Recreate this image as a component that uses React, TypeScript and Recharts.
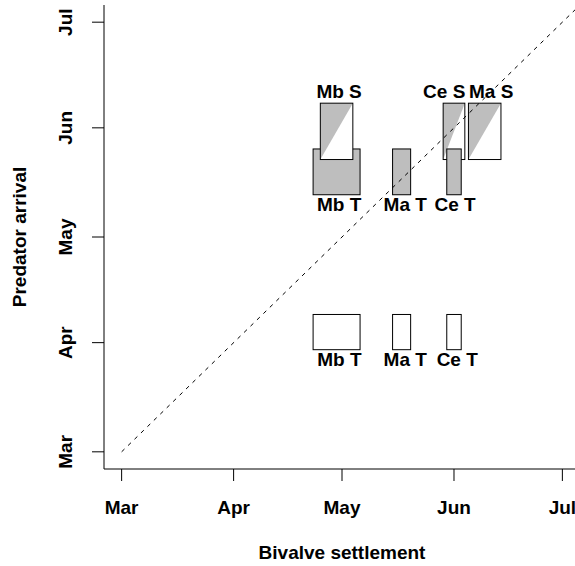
import { ComposedChart, XAxis, YAxis, ReferenceArea, ReferenceLine, Scatter, Label } from "recharts"

const monthTicks = [60, 91, 121, 152, 182]
const monthNames = ["Mar", "Apr", "May", "Jun", "Jul"]
const axisMin = 55.12
const axisMax = 186.88

// settlement windows, day of year (Mb, Ma, Ce)
const species = ["Mb", "Ma", "Ce"]
const settleT = [[113, 126], [135, 140], [150, 154]]
const settleS = [[115, 124], [156, 165], [149, 155]]

// predator arrival windows, day of year
const arrivalEarly = [89, 99]
const arrivalLate = [133, 146]
const arrivalS = [143, 159]

const labelText = ["Mb S", "Ce S", "Ma S", "Mb T", "Ma T", "Ce T", "Mb T", "Ma T", "Ce T"]
const labelX = [120.2, 149.3, 162.3, 120.2, 138.5, 152.3, 120.3, 138.5, 152.9]
const labelY = [162.4, 162.4, 162.4, 130.4, 130.4, 130.4, 86.2, 86.2, 86.2]

const diagonal = [60, axisMax]

const GREY = "#bebebe"
const FONT = "'Liberation Sans', Arial, sans-serif"

// drawing order matters: S boxes sit over Mb T, Ce T sits over Ce S
const boxes = [
    ...species.map((_, i) => ({ x: settleT[i], y: arrivalEarly, kind: "open" })),
    { x: settleT[0], y: arrivalLate, kind: "solid" },
    { x: settleT[1], y: arrivalLate, kind: "solid" },
    { x: settleS[0], y: arrivalS, kind: "half" },
    { x: settleS[2], y: arrivalS, kind: "half" },
    { x: settleS[1], y: arrivalS, kind: "half" },
    { x: settleT[2], y: arrivalLate, kind: "solid" },
]

const labels = labelText.map((t, i) => ({ x: labelX[i], y: labelY[i], text: t }))

const textStyle = { fontFamily: FONT, fontWeight: 700, fontSize: 19, fill: "#000" }

function BoxShape(props: any) {
    const { x, y, width, height, kind } = props
    if (kind === "half") {
        return (
            <g>
                <rect x={x} y={y} width={width} height={height} fill="#fff" />
                <polygon points={`${x},${y} ${x + width},${y} ${x},${y + height}`} fill={GREY} />
                <rect x={x} y={y} width={width} height={height} fill="none" stroke="#000" strokeWidth={1} />
            </g>
        )
    }
    return <rect x={x} y={y} width={width} height={height} fill={kind === "solid" ? GREY : "#fff"} stroke="#000" strokeWidth={1} />
}

function XTick(props: any) {
    const { x, y, payload } = props
    return (
        <text x={x} y={y + 33} textAnchor="middle" style={textStyle}>
            {monthNames[monthTicks.indexOf(payload.value)]}
        </text>
    )
}

function YTick(props: any) {
    const { x, y, payload } = props
    return (
        <text transform={`translate(${x - 27.2},${y}) rotate(-90)`} y={6.8} textAnchor="middle" style={textStyle}>
            {monthNames[monthTicks.indexOf(payload.value)]}
        </text>
    )
}

function LabelShape(props: any) {
    const { cx, cy, payload } = props
    return (
        <text x={cx} y={cy + 6.8} textAnchor="middle" style={textStyle}>
            {payload.text}
        </text>
    )
}

export default function App() {
    return (
        <div style={{ position: "fixed", left: 0, top: 0, width: 575, height: 566, overflow: "hidden", background: "#fff" }}>
            <ComposedChart width={580} height={566} data={labels} margin={{ top: 5, right: 0, bottom: 0, left: 0 }}>
                <XAxis
                    type="number"
                    dataKey="x"
                    domain={[axisMin, axisMax]}
                    ticks={monthTicks}
                    allowDataOverflow
                    height={97}
                    tickSize={12}
                    tickMargin={0}
                    tick={<XTick />}
                    stroke="#000"
                >
                    <Label
                        content={(p: any) => (
                            <text x={p.viewBox.x + p.viewBox.width / 2} y={559} textAnchor="middle" style={textStyle}>
                                Bivalve settlement
                            </text>
                        )}
                    />
                </XAxis>
                <XAxis xAxisId="top" orientation="top" type="number" domain={[axisMin, axisMax]} height={0} tick={false} tickLine={false} stroke="#000" />
                <YAxis
                    type="number"
                    dataKey="y"
                    domain={[axisMin, axisMax]}
                    ticks={monthTicks}
                    allowDataOverflow
                    width={104}
                    tickSize={12}
                    tickMargin={0}
                    tick={<YTick />}
                    stroke="#000"
                >
                    <Label
                        content={(p: any) => (
                            <text
                                transform={`translate(19.2,${p.viewBox.y + p.viewBox.height / 2}) rotate(-90)`}
                                y={6.8}
                                textAnchor="middle"
                                style={textStyle}
                            >
                                Predator arrival
                            </text>
                        )}
                    />
                </YAxis>
                {boxes.map((b, i) => (
                    <ReferenceArea
                        key={i}
                        x1={b.x[0]}
                        x2={b.x[1]}
                        y1={b.y[0]}
                        y2={b.y[1]}
                        ifOverflow="visible"
                        shape={(p: any) => <BoxShape {...p} kind={b.kind} />}
                    />
                ))}
                <ReferenceLine
                    segment={[{ x: diagonal[0], y: diagonal[0] }, { x: diagonal[1], y: diagonal[1] }]}
                    stroke="#000"
                    strokeWidth={1}
                    strokeDasharray="4 5"
                    ifOverflow="visible"
                />
                <Scatter dataKey="y" isAnimationActive={false} shape={<LabelShape />} />
            </ComposedChart>
        </div>
    )
}
